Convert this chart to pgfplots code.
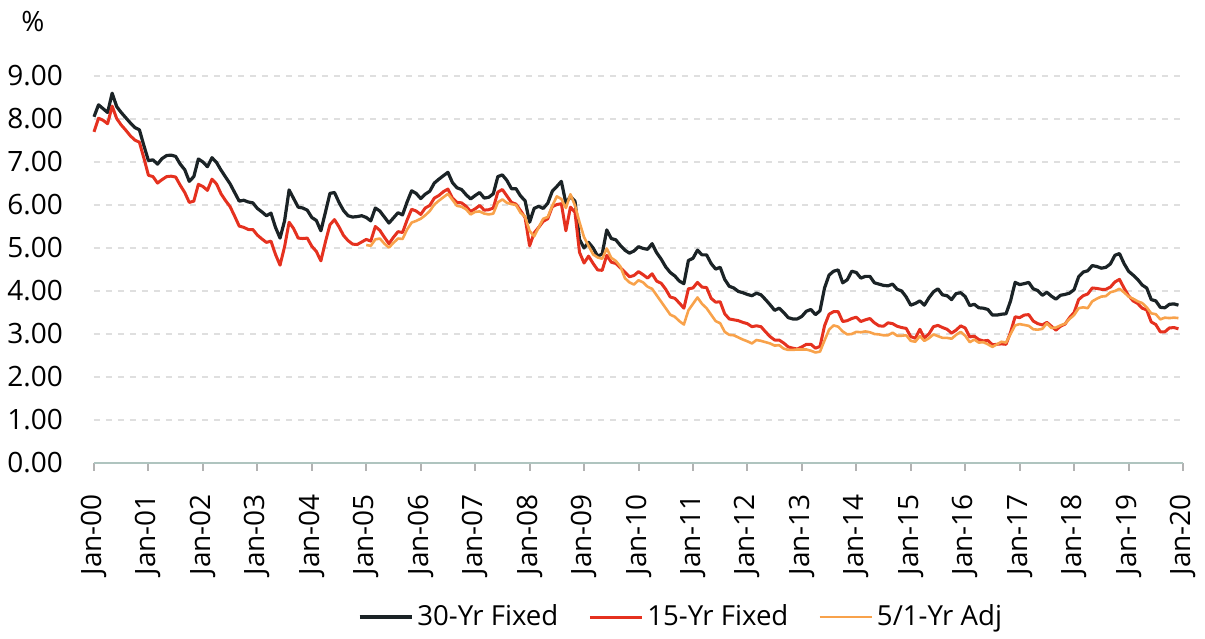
\documentclass[border=0pt]{standalone}
\usepackage{fontspec}
\setmainfont{Open Sans}
\usepackage{pgfplots}
\usepackage{pgfplotstable}
\pgfplotsset{compat=1.18}
\definecolor{c30}{HTML}{1B2326}
\definecolor{c15}{HTML}{E5311F}
\definecolor{carm}{HTML}{F8A24B}
\definecolor{axisgray}{HTML}{AFC4BF}

% month index (0 = Jan 2000), 30-yr, 15-yr, 5/1 ARM
\pgfplotstableread{
m a b c
0 8.05 7.70 nan
1 8.33 8.02 nan
2 8.24 7.97 nan
3 8.15 7.89 nan
4 8.60 8.30 nan
5 8.29 8.01 nan
6 8.15 7.86 nan
7 8.03 7.74 nan
8 7.91 7.61 nan
9 7.80 7.51 nan
10 7.75 7.46 nan
11 7.38 7.09 nan
12 7.03 6.69 nan
13 7.05 6.66 nan
14 6.95 6.51 nan
15 7.08 6.59 nan
16 7.15 6.66 nan
17 7.16 6.67 nan
18 7.13 6.65 nan
19 6.95 6.46 nan
20 6.82 6.29 nan
21 6.55 6.06 nan
22 6.66 6.09 nan
23 7.07 6.48 nan
24 7.00 6.43 nan
25 6.89 6.34 nan
26 7.10 6.60 nan
27 6.99 6.49 nan
28 6.81 6.26 nan
29 6.65 6.10 nan
30 6.49 5.96 nan
31 6.29 5.74 nan
32 6.09 5.51 nan
33 6.11 5.48 nan
34 6.07 5.43 nan
35 6.05 5.43 nan
36 5.92 5.30 nan
37 5.84 5.21 nan
38 5.75 5.13 nan
39 5.81 5.16 nan
40 5.48 4.85 nan
41 5.23 4.60 nan
42 5.63 5.03 nan
43 6.35 5.60 nan
44 6.15 5.45 nan
45 5.95 5.23 nan
46 5.93 5.22 nan
47 5.88 5.23 nan
48 5.71 5.04 nan
49 5.64 4.92 nan
50 5.40 4.70 nan
51 5.83 5.14 nan
52 6.27 5.54 nan
53 6.29 5.66 nan
54 6.06 5.49 nan
55 5.87 5.29 nan
56 5.75 5.17 nan
57 5.72 5.09 nan
58 5.73 5.08 nan
59 5.75 5.14 nan
60 5.71 5.20 5.07
61 5.63 5.16 5.05
62 5.93 5.50 5.20
63 5.86 5.41 5.22
64 5.72 5.25 5.10
65 5.58 5.10 5.01
66 5.70 5.25 5.12
67 5.82 5.38 5.22
68 5.77 5.36 5.21
69 6.07 5.65 5.43
70 6.33 5.90 5.59
71 6.27 5.86 5.63
72 6.15 5.78 5.68
73 6.25 5.93 5.76
74 6.32 5.99 5.86
75 6.51 6.16 6.01
76 6.60 6.22 6.10
77 6.68 6.31 6.18
78 6.76 6.37 6.26
79 6.52 6.16 6.12
80 6.40 6.06 5.98
81 6.36 6.05 5.96
82 6.24 5.97 5.90
83 6.14 5.85 5.78
84 6.22 5.91 5.84
85 6.29 5.99 5.85
86 6.16 5.88 5.80
87 6.18 5.89 5.78
88 6.26 5.93 5.80
89 6.66 6.30 6.06
90 6.70 6.36 6.13
91 6.57 6.21 6.05
92 6.38 6.06 6.02
93 6.38 6.02 6.00
94 6.21 5.87 5.82
95 6.10 5.71 5.73
96 5.60 5.05 5.40
97 5.92 5.35 5.27
98 5.97 5.48 5.48
99 5.92 5.62 5.68
100 6.04 5.68 5.72
101 6.32 5.96 5.98
102 6.43 6.01 6.20
103 6.55 6.03 6.14
104 6.04 5.40 5.93
105 6.20 5.95 6.25
106 6.09 5.83 5.99
107 5.20 4.90 5.60
108 5.00 4.65 5.25
109 5.13 4.81 5.05
110 5.00 4.64 4.85
111 4.81 4.49 4.78
112 4.86 4.48 4.75
113 5.42 4.83 4.99
114 5.22 4.67 4.77
115 5.19 4.64 4.70
116 5.06 4.54 4.57
117 4.95 4.44 4.30
118 4.88 4.33 4.20
119 4.93 4.36 4.15
120 5.03 4.45 4.25
121 4.99 4.38 4.20
122 4.97 4.30 4.10
123 5.10 4.40 4.05
124 4.89 4.23 3.90
125 4.74 4.18 3.75
126 4.56 4.04 3.60
127 4.43 3.86 3.45
128 4.35 3.83 3.40
129 4.23 3.72 3.30
130 4.17 3.60 3.22
131 4.71 4.05 3.55
132 4.76 4.07 3.70
133 4.95 4.20 3.85
134 4.84 4.09 3.70
135 4.84 4.08 3.60
136 4.64 3.83 3.45
137 4.51 3.74 3.30
138 4.55 3.75 3.25
139 4.27 3.47 3.05
140 4.11 3.35 2.98
141 4.07 3.33 2.97
142 3.99 3.31 2.92
143 3.96 3.27 2.87
144 3.92 3.24 2.83
145 3.89 3.17 2.78
146 3.95 3.19 2.86
147 3.91 3.17 2.84
148 3.80 3.05 2.81
149 3.68 2.94 2.78
150 3.55 2.86 2.73
151 3.60 2.86 2.74
152 3.50 2.79 2.66
153 3.38 2.70 2.63
154 3.35 2.67 2.63
155 3.35 2.65 2.64
156 3.41 2.70 2.64
157 3.53 2.76 2.64
158 3.57 2.76 2.61
159 3.45 2.67 2.57
160 3.54 2.71 2.59
161 4.07 3.19 2.85
162 4.37 3.46 3.10
163 4.46 3.52 3.20
164 4.49 3.52 3.17
165 4.19 3.29 3.06
166 4.26 3.31 2.99
167 4.46 3.36 3.00
168 4.43 3.39 3.05
169 4.30 3.29 3.04
170 4.34 3.33 3.06
171 4.34 3.36 3.04
172 4.19 3.26 3.00
173 4.16 3.19 2.99
174 4.13 3.18 2.97
175 4.12 3.26 2.97
176 4.16 3.24 3.03
177 4.04 3.18 2.96
178 4.00 3.15 2.96
179 3.86 3.13 2.97
180 3.67 2.94 2.84
181 3.71 2.90 2.82
182 3.77 3.11 2.95
183 3.67 2.91 2.84
184 3.84 3.00 2.90
185 3.98 3.17 2.99
186 4.05 3.20 2.95
187 3.91 3.15 2.91
188 3.89 3.11 2.91
189 3.80 3.02 2.89
190 3.94 3.09 2.98
191 3.96 3.19 3.05
192 3.87 3.14 2.96
193 3.66 2.93 2.81
194 3.69 2.95 2.87
195 3.61 2.87 2.80
196 3.60 2.84 2.81
197 3.57 2.85 2.76
198 3.44 2.75 2.70
199 3.44 2.76 2.76
200 3.46 2.77 2.82
201 3.47 2.76 2.80
202 3.77 3.04 3.00
203 4.20 3.40 3.20
204 4.15 3.38 3.23
205 4.17 3.44 3.21
206 4.20 3.45 3.19
207 4.05 3.30 3.11
208 4.01 3.24 3.10
209 3.90 3.21 3.12
210 3.97 3.27 3.25
211 3.88 3.18 3.14
212 3.81 3.09 3.15
213 3.90 3.18 3.20
214 3.92 3.23 3.24
215 3.95 3.38 3.35
216 4.03 3.50 3.44
217 4.33 3.80 3.60
218 4.44 3.89 3.62
219 4.47 3.93 3.60
220 4.59 4.07 3.76
221 4.57 4.06 3.82
222 4.53 4.04 3.87
223 4.55 4.04 3.88
224 4.63 4.09 3.97
225 4.83 4.21 4.00
226 4.87 4.27 4.05
227 4.64 4.07 3.97
228 4.46 3.89 3.87
229 4.37 3.77 3.82
230 4.27 3.71 3.76
231 4.14 3.60 3.72
232 4.07 3.56 3.62
233 3.80 3.28 3.48
234 3.77 3.22 3.46
235 3.62 3.05 3.34
236 3.61 3.05 3.38
237 3.69 3.14 3.37
238 3.70 3.15 3.38
239 3.67 3.12 3.37
}\rates

\begin{document}
\begin{tikzpicture}
\begin{axis}[
    name=ax,
    scale only axis,
    width=544.5pt, height=193.5pt,
    xmin=0, xmax=20, ymin=0, ymax=9,
    axis lines*=left,
    x axis line style={axisgray, line width=1.2pt},
    y axis line style={draw=none},
    xtick={0,...,20},
    xticklabels={Jan-00,Jan-01,Jan-02,Jan-03,Jan-04,Jan-05,Jan-06,Jan-07,Jan-08,Jan-09,Jan-10,Jan-11,Jan-12,Jan-13,Jan-14,Jan-15,Jan-16,Jan-17,Jan-18,Jan-19,Jan-20},
    xtick style={gray!60, line width=1pt},
    tick align=outside,
    major tick length=4pt,
    ytick={0,...,9},
    ytick style={draw=none},
    ymajorgrids,
    grid style={gray!25, dash pattern=on 3pt off 3pt, line width=0.8pt},
    /pgf/number format/assume math mode=true,
    yticklabel={\pgfmathprintnumber[fixed,fixed zerofill,precision=2]{\tick}},
    ticklabel style={font=\fontsize{14}{16}\selectfont, text=black},
    yticklabel style={xshift=-8pt},
    xticklabel style={rotate=90, anchor=east},
    xticklabel shift=8pt,
    legend style={draw=none, fill=none, font=\fontsize{13.8}{16}\selectfont,
        at={(0.54,-0.398)}, anchor=center, legend columns=3,
        /tikz/every even column/.append style={column sep=13pt}},
    legend image code/.code={\draw[#1] (0pt,0pt) -- (26pt,0pt);},
    clip=false,
]
\addplot[c30, line width=1.6pt, line join=round] table[x expr=\thisrow{m}/12, y=a] {\rates};
\addlegendentry{30-Yr Fixed}
\addplot[c15, line width=1.5pt, line join=round] table[x expr=\thisrow{m}/12, y=b] {\rates};
\addlegendentry{15-Yr Fixed}
\addplot[carm, line width=1.3pt, line join=round] table[x expr=\thisrow{m}/12, y=c] {\rates};
\addlegendentry{5/1-Yr Adj}
\end{axis}
\node[font=\fontsize{14}{16}\selectfont] at ([xshift=-30.5pt, yshift=27pt]ax.north west) {\%};
\pgfresetboundingbox
\path ([xshift=-47pt, yshift=-88pt]ax.south west) rectangle ([xshift=11pt, yshift=38pt]ax.north east);
\end{tikzpicture}
\end{document}
